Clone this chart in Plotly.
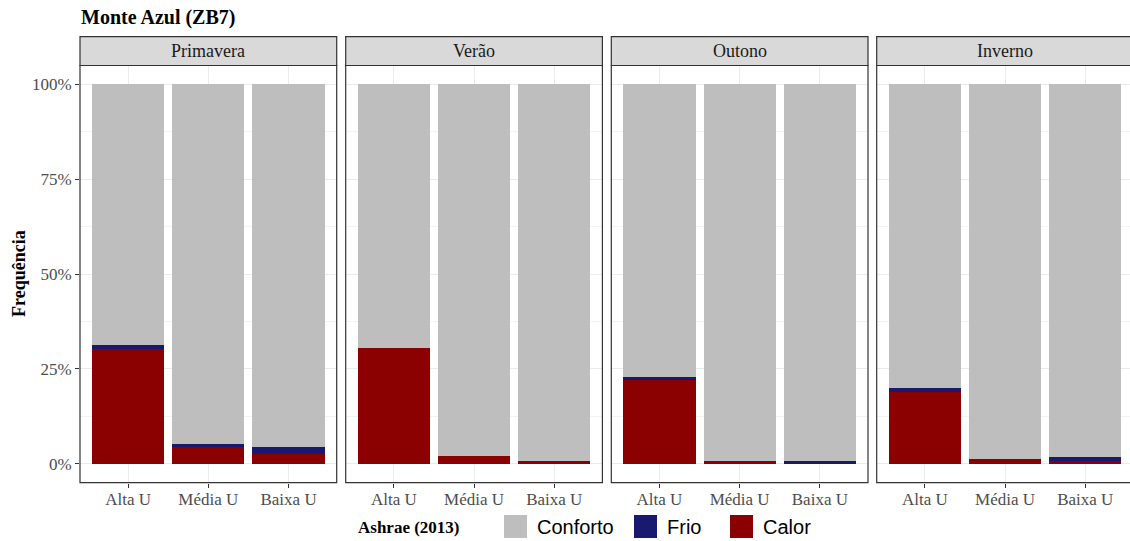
import plotly.graph_objects as go

# Frequency (%) of thermal sensation by season and category
seasons = ["Primavera", "Verão", "Outono", "Inverno"]
categories = ["Alta U", "Média U", "Baixa U"]

calor = [
    [30.2, 4.8, 2.5],   # Primavera
    [30.5, 2.0, 0.7],   # Verão
    [22.0, 0.8, 0.0],   # Outono
    [18.8, 1.2, 0.7],   # Inverno
]
frio = [
    [1.2, 0.5, 1.9],
    [0.0, 0.0, 0.0],
    [0.8, 0.0, 0.8],
    [1.3, 0.0, 1.1],
]
conforto = [[round(100 - c - f, 2) for c, f in zip(cs, fs)] for cs, fs in zip(calor, frio)]

y_ticks = [0, 25, 50, 75, 100]
y_ticktext = ["0%", "25%", "50%", "75%", "100%"]

COL_CONF = "#BEBEBE"
COL_FRIO = "#191970"
COL_CALOR = "#8B0000"

W, H = 1130, 541
SERIF = "Liberation Serif"
SANS = "Liberation Sans"


def fx(px):
    return px / W


def fy(py):
    return 1 - py / H


panel_left = [80, 345.7, 611.3, 876.7]
panel_w = 256.7
panel_top, panel_bot = 65.5, 482.7
strip_top = 36.7
unit_px = panel_w / 3.2

fig = go.Figure()
for i, s in enumerate(seasons):
    sfx = "" if i == 0 else str(i + 1)
    for name, vals, col in [("Calor", calor[i], COL_CALOR),
                            ("Frio", frio[i], COL_FRIO),
                            ("Conforto", conforto[i], COL_CONF)]:
        fig.add_trace(go.Bar(
            x=categories, y=vals, name=name, marker_color=col,
            marker_line_width=0, xaxis="x" + sfx, yaxis="y" + sfx,
            showlegend=False, hoverinfo="x+y+name",
        ))

    left = panel_left[i]
    right = min(left + panel_w, W)
    x_hi = -0.6 + (right - left) / unit_px
    axis_common = dict(
        showline=False, zeroline=False, ticks="outside", ticklen=4,
        tickcolor="#333333", tickwidth=1,
        tickfont=dict(family=SERIF, size=17, color="#4D4D4D"),
        showgrid=True, gridcolor="#EBEBEB", gridwidth=1,
    )
    fig.layout["xaxis" + sfx] = dict(
        axis_common, domain=[fx(left), fx(right)], anchor="y" + sfx,
        type="category", categoryorder="array", categoryarray=categories,
        range=[-0.6, x_hi], fixedrange=True, ticklabelstandoff=-3,
    )
    fig.layout["yaxis" + sfx] = dict(
        axis_common, domain=[fy(panel_bot), fy(panel_top)], anchor="x" + sfx,
        range=[-5, 105], tickvals=y_ticks, ticktext=y_ticktext,
        showticklabels=(i == 0), ticks="outside" if i == 0 else "",
        minor=dict(tickvals=[12.5, 37.5, 62.5, 87.5], showgrid=True,
                   gridcolor="#F3F3F3", gridwidth=0.6),
        fixedrange=True,
    )
    # strip
    fig.add_shape(type="rect", xref="paper", yref="paper",
                  x0=fx(left), x1=fx(left + panel_w), y0=fy(panel_top), y1=fy(strip_top),
                  fillcolor="#D9D9D9", line=dict(color="#333333", width=1.2), layer="above")
    fig.add_annotation(xref="paper", yref="paper", x=fx(left + panel_w / 2),
                       y=fy((strip_top + panel_top) / 2), text=s, showarrow=False,
                       font=dict(family=SERIF, size=18, color="#1A1A1A"),
                       xanchor="center", yanchor="middle")
    # panel border
    fig.add_shape(type="rect", xref="paper", yref="paper",
                  x0=fx(left), x1=fx(left + panel_w), y0=fy(panel_bot), y1=fy(panel_top),
                  line=dict(color="#333333", width=1.2), fillcolor="rgba(0,0,0,0)", layer="above")

# title and axis titles
fig.add_annotation(xref="paper", yref="paper", x=fx(79), y=fy(18), text="<b>Monte Azul (ZB7)</b>",
                   showarrow=False, xanchor="left", yanchor="middle",
                   font=dict(family=SERIF, size=20, color="#000000"))
fig.add_annotation(xref="paper", yref="paper", x=fx(19), y=fy(274), text="<b>Frequência</b>",
                   showarrow=False, textangle=-90, xanchor="center", yanchor="middle",
                   font=dict(family=SERIF, size=18, color="#000000"))

# legend
fig.add_annotation(xref="paper", yref="paper", x=fx(356), y=fy(527), text="<b>Ashrae (2013)</b>",
                   showarrow=False, xanchor="left", yanchor="middle",
                   font=dict(family=SERIF, size=17, color="#000000"))
legend_items = [("Conforto", COL_CONF, 504), ("Frio", COL_FRIO, 634), ("Calor", COL_CALOR, 730)]
for label, col, x0 in legend_items:
    fig.add_shape(type="rect", xref="paper", yref="paper",
                  x0=fx(x0), x1=fx(x0 + 23), y0=fy(538), y1=fy(515),
                  fillcolor=col, line=dict(width=0))
    fig.add_annotation(xref="paper", yref="paper", x=fx(x0 + 31), y=fy(527), text=label,
                       showarrow=False, xanchor="left", yanchor="middle",
                       font=dict(family=SANS, size=20, color="#000000"))

fig.update_layout(
    width=W, height=H, margin=dict(l=0, r=0, t=0, b=0),
    barmode="stack", bargap=0.1,
    paper_bgcolor="white", plot_bgcolor="white",
    showlegend=False,
)

fig.write_html("out.html")
